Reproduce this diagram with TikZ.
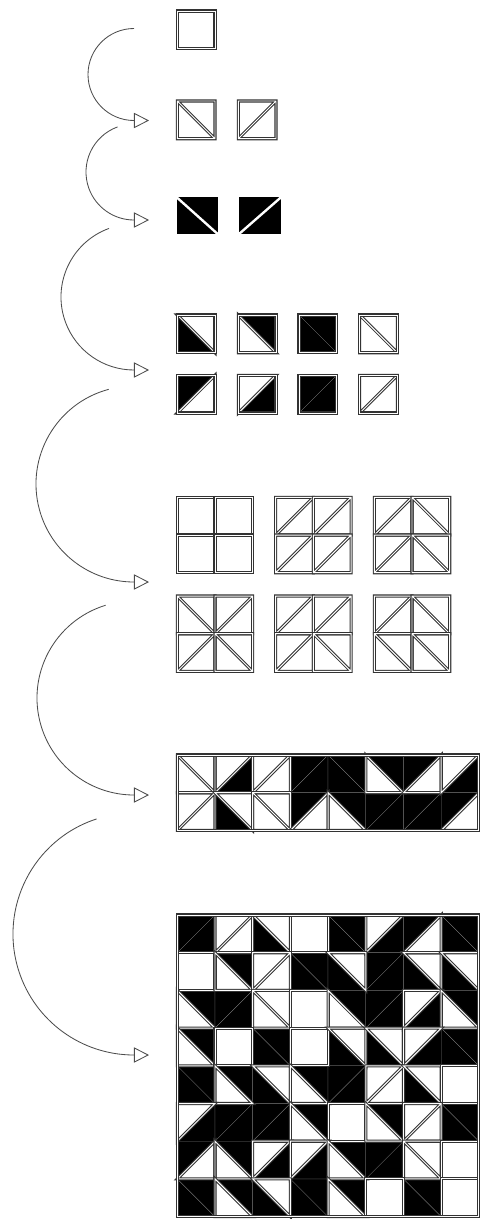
\documentclass[tikz,border=0pt]{standalone}
\usepackage{tikz}
\usetikzlibrary{calc,arrows.meta}
\pgfdeclarelayer{back}
\pgfsetlayers{back,main}

\begin{document}
\begin{tikzpicture}[x=0.025cm,y=-0.025cm,
  wline/.style={draw=black!80,line width=0.75pt,double=white,double distance=0.7pt},
  kfill/.style={fill=black,draw=black!55,line width=0.2pt},
  flow/.style={draw=black!70,line width=0.6pt,-{Triangle[open,length=0.375cm,width=0.38cm,fill=white]}}]
  \useasboundingbox (0,0) -- (480,0) -- (480,1219) -- (0,1219) -- cycle;
  \def\s{37.7}
  \def\blk#1{\begin{pgfonlayer}{back}\path[kfill] #1 -- cycle;\end{pgfonlayer}}
  \def\sq{(tl) -- (tr) -- (br) -- (bl) -- cycle}
  % one cell: 0 empty, 1-4 diagonal \, 5-8 diagonal /
  \def\cell#1#2#3{%
    \coordinate (tl) at (#1,#2);
    \coordinate (tr) at ({#1+\s},#2);
    \coordinate (bl) at (#1,{#2+\s});
    \coordinate (br) at ({#1+\s},{#2+\s});
    \ifcase#3\relax
      \draw[wline] \sq;
    \or
      \draw[wline] \sq (tl) -- (br);
    \or
      \blk{(tl) -- (bl) -- (br)}\draw[wline] (tl) -- (tr) -- (br) -- cycle;
    \or
      \blk{(tl) -- (tr) -- (br)}\draw[wline] (tl) -- (bl) -- (br) -- cycle;
    \or
      \blk{(tl) -- (bl) -- (br)}\blk{(tl) -- (tr) -- (br)}
    \or
      \draw[wline] \sq (bl) -- (tr);
    \or
      \blk{(tl) -- (tr) -- (bl)}\draw[wline] (tr) -- (br) -- (bl) -- cycle;
    \or
      \blk{(tr) -- (br) -- (bl)}\draw[wline] (tl) -- (tr) -- (bl) -- cycle;
    \or
      \blk{(tl) -- (tr) -- (bl)}\blk{(tr) -- (br) -- (bl)}
    \fi}

  % levels 1 and 2
  \cell{177.3}{11}{0}
  \cell{177.3}{101}{1}
  \cell{238.3}{101}{5}

  % level 3
  \fill (176.7,197.3) -- (217.7,197.3) -- (217.7,234) -- (176.7,234) -- cycle;
  \draw[white,line width=1.7pt] (175.7,196.4) -- (218.7,234.9);
  \fill (239,197.3) -- (281,197.3) -- (281,234) -- (239,234) -- cycle;
  \draw[white,line width=1.7pt] (238,234.9) -- (282,196.4);

  % level 4
  \foreach \x/\ta/\tb in {177.3/2/6, 238.3/3/7, 299/4/8, 359.7/1/5}{
    \cell{\x}{315}{\ta}
    \draw[wline] \sq;
    \cell{\x}{375.3}{\tb}
    \draw[wline] \sq;
  }

  % level 5
  \foreach \x/\y/\ta/\tb/\tc/\td in {177.3/497.3/0/0/0/0, 275.7/497.3/5/5/5/5,
      374.3/497.3/5/1/5/1, 177.3/596/1/5/5/1, 275.7/596/5/5/5/1, 374.3/596/5/1/1/1}{
    \cell{\x}{\y}{\ta}
    \cell{\x+\s}{\y}{\tb}
    \cell{\x}{\y+\s}{\tc}
    \cell{\x+\s}{\y+\s}{\td}
  }

  % level 6
  \foreach \row [count=\j from 0] in {{1,7,5,8,4,3,6,7},{5,2,1,6,3,8,8,6}}{
    \foreach \code [count=\i from 0] in \row {
      \cell{177.3+\i*\s}{755+\j*\s}{\code}
    }
  }
  \coordinate (band) at (177.3,755);
  \draw[wline] (band) -- ++(8*\s,0) -- ++(0,2*\s) -- ++(-8*\s,0) -- cycle;

  % level 7
  \foreach \row [count=\j from 0] in {{8,5,2,0,4,7,6,4},{0,3,5,4,2,8,2,2},
      {3,8,1,0,3,8,7,3},{3,0,4,0,2,2,7,4},{4,3,2,3,8,5,2,0},
      {7,8,8,3,0,3,5,4},{6,3,7,7,3,8,1,0},{4,3,2,4,3,0,4,0}}{
    \foreach \code [count=\i from 0] in \row {
      \cell{177.3+\i*\s}{915+\j*\s}{\code}
    }
  }
  \coordinate (grid) at (177.3,915);
  \draw[wline] (grid) -- ++(8*\s,0) -- ++(0,8*\s) -- ++(-8*\s,0) -- cycle;

  % arrows
  \foreach \n/\cy/\rr/\a in {1/74.5/46/270, 2/172/48/250, 3/297/73/250,
      4/484/98/255, 5/698/97/253, 6/934/121/252}{
    \coordinate (s\n) at ($(134,\cy)+(\a:\rr)$);
    \coordinate (t\n) at (149,\cy+\rr);
    \draw[flow] (s\n) arc[start angle=\a,end angle=90,radius=\rr] -- (t\n);
  }
\end{tikzpicture}
\end{document}
